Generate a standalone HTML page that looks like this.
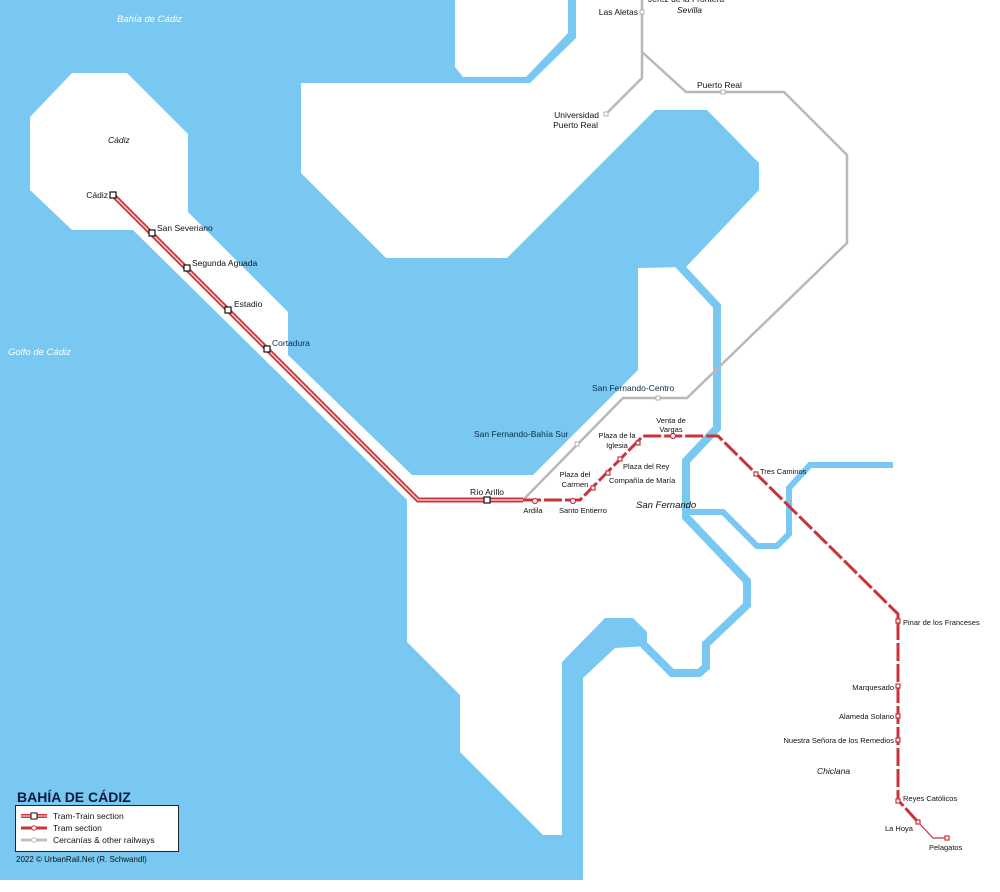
<!DOCTYPE html>
<html><head><meta charset="utf-8"><style>
html,body{margin:0;padding:0;background:#fff}
svg{display:block}
text{font-family:"Liberation Sans",Arial,sans-serif;fill:#111}
.s{font-size:8.5px}
.m{font-size:9.5px}
.it{font-style:italic}
.nv{fill:#0a2a4a}
</style></head><body>
<svg width="1000" height="892" viewBox="0 0 1000 892" xmlns="http://www.w3.org/2000/svg">
<rect x="0" y="0" width="1000" height="880" fill="#78c8f2"/>
<polygon fill="#fff" points="30,117 72,73 127,73 188,134 188,212 288,312 288,355 412,475 533,475 638,370 638,268 686,267 759,190 759,163 707,110 655,110 507,258 386,258 301,173 301,83 530,83 576,38 576,0 1000,0 1000,892 0,892 0,881 583,881 583,678 615,648 647,646 647,632 633,618 605,618 562,662 562,835 543,835 460,752 460,695 407,642 407,500 133,230 72,230 30,190"/>
<polygon fill="#fff" points="455,0 568,0 568,33 526,77 463,77 455,67"/>
<polyline fill="none" stroke="#78c8f2" stroke-width="8" points="676,262 717,306 717,428 686,461 686,517 747,581 747,605 706,644 706,667 699,673 672,673 643,644"/>
<polyline fill="none" stroke="#78c8f2" stroke-width="6" points="687,512 723,512 757,546 777,546 789,534 789,488 810,465 893,465"/>
<text x="117" y="22" class="m it" style="fill:#fff">Bahía de Cádiz</text>
<text x="8" y="355" class="m it" style="fill:#fff">Golfo de Cádiz</text>
<text x="108" y="143" class="s it">Cádiz</text>
<text x="636" y="508" class="m it">San Fernando</text>
<text x="817" y="774" class="s it">Chiclana</text>
<text x="677" y="13" class="s it">Sevilla</text>
<g fill="none" stroke="#b8b8b8" stroke-width="2.5">
<polyline points="642,0 642,78 606,114"/>
<polyline points="642,52 686,92 784,92 847,155 847,243 687,398 623,398 523,500"/>
</g>
<g fill="#fff" stroke="#b0b0b0" stroke-width="1">
<rect x="640" y="10" width="4" height="4"/><rect x="604" y="112" width="4" height="4"/>
<rect x="721" y="90" width="4" height="4"/><rect x="656" y="396" width="4" height="4"/>
<rect x="575" y="442" width="4" height="4"/>
</g>
<polyline fill="none" stroke="#c8343c" stroke-width="5" points="113,195 418,500 523,500"/>
<polyline fill="none" stroke="#f2c4c4" stroke-width="1.6" points="113,195 418,500 523,500"/>
<g fill="#fff" stroke="#111" stroke-width="1.2">
<rect x="110" y="192" width="6" height="6"/><rect x="149" y="230" width="6" height="6"/>
<rect x="184" y="265" width="6" height="6"/><rect x="225" y="307" width="6" height="6"/>
<rect x="264" y="346" width="6" height="6"/><rect x="484" y="497" width="6" height="6"/>
</g>
<polyline fill="none" stroke="#c8343c" stroke-width="3" stroke-dasharray="18 3" points="523,500 580,500 643,436 718,436 898,614 898,800 918,822"/>
<polyline fill="none" stroke="#c8343c" stroke-width="1.2" points="918,822 933,838 947,838"/>
<g fill="#fff" stroke="#c8343c" stroke-width="1.2">
<circle cx="535" cy="501" r="2.5"/><circle cx="573" cy="501" r="2.5"/>
<rect x="591" y="486" width="4" height="4"/><rect x="606" y="471" width="4" height="4"/>
<rect x="618" y="457" width="4" height="4"/><rect x="636" y="441" width="4" height="4"/>
<circle cx="673" cy="436" r="2.5"/><rect x="754" y="472" width="4" height="4"/>
<rect x="896" y="619" width="4" height="4"/><rect x="896" y="684" width="4" height="4"/>
<rect x="896" y="714" width="4" height="4"/><rect x="896" y="738" width="4" height="4"/>
<rect x="896" y="799" width="4" height="4"/><rect x="916" y="820" width="4" height="4"/>
<rect x="945" y="836" width="4" height="4"/>
</g>
<text x="108" y="198" class="s" text-anchor="end">Cádiz</text>
<text x="157" y="231" class="s">San Severiano</text>
<text x="192" y="266" class="s">Segunda Aguada</text>
<text x="234" y="307" class="s">Estadio</text>
<text x="272" y="346" class="s nv">Cortadura</text>
<text x="487" y="495" class="s" text-anchor="middle">Río Arillo</text>
<text x="533" y="513" text-anchor="middle" style="font-size:7.5px">Ardila</text>
<text x="559" y="513" style="font-size:7.5px">Santo Entierro</text>
<text x="575" y="477" text-anchor="middle" style="font-size:7.5px">Plaza del</text>
<text x="575" y="487" text-anchor="middle" style="font-size:7.5px">Carmen</text>
<text x="609" y="483" style="font-size:7.5px">Compañía de María</text>
<text x="623" y="469" style="font-size:7.5px">Plaza del Rey</text>
<text x="617" y="438" text-anchor="middle" style="font-size:7.5px">Plaza de la</text>
<text x="617" y="448" text-anchor="middle" style="font-size:7.5px">Iglesia</text>
<text x="671" y="423" text-anchor="middle" style="font-size:7.5px">Venta de</text>
<text x="671" y="432" text-anchor="middle" style="font-size:7.5px">Vargas</text>
<text x="592" y="391" class="s nv">San Fernando-Centro</text>
<text x="474" y="437" class="s nv">San Fernando-Bahía Sur</text>
<text x="760" y="474" style="font-size:7.5px">Tres Caminos</text>
<text x="903" y="625" style="font-size:7.5px">Pinar de los Franceses</text>
<text x="894" y="690" style="font-size:7.5px" text-anchor="end">Marquesado</text>
<text x="894" y="719" style="font-size:7.5px" text-anchor="end">Alameda Solano</text>
<text x="894" y="743" style="font-size:7.5px" text-anchor="end">Nuestra Señora de los Remedios</text>
<text x="903" y="801" style="font-size:7.5px">Reyes Católicos</text>
<text x="885" y="831" style="font-size:7.5px">La Hoya</text>
<text x="929" y="850" style="font-size:7.5px">Pelagatos</text>
<text x="638" y="15" class="s" text-anchor="end">Las Aletas</text>
<text x="648" y="2" class="s">Jerez de la Frontera</text>
<text x="599" y="118" class="s" text-anchor="end">Universidad</text>
<text x="598" y="128" class="s" text-anchor="end">Puerto Real</text>
<text x="697" y="88" class="s">Puerto Real</text>
<text x="17" y="802" style="font-size:14px;font-weight:bold;fill:#0a1a3a">BAHÍA DE CÁDIZ</text>
<rect x="15.5" y="805.5" width="163" height="46" fill="#fff" stroke="#222" stroke-width="1"/>
<line x1="21" y1="816" x2="47" y2="816" stroke="#c8343c" stroke-width="4"/>
<line x1="21" y1="816" x2="47" y2="816" stroke="#f2c4c4" stroke-width="1.3"/>
<rect x="31" y="813" width="6" height="6" fill="#fff" stroke="#111"/>
<line x1="21" y1="828" x2="47" y2="828" stroke="#c8343c" stroke-width="3"/>
<circle cx="34" cy="828" r="2.3" fill="#fff" stroke="#c8343c"/>
<line x1="21" y1="840" x2="47" y2="840" stroke="#c0c0c0" stroke-width="3"/>
<circle cx="34" cy="840" r="2.3" fill="#fff" stroke="#c0c0c0"/>
<text x="53" y="819" class="s">Tram-Train section</text>
<text x="53" y="831" class="s">Tram section</text>
<text x="53" y="843" class="s">Cercanías &amp; other railways</text>
<text x="16" y="862" style="font-size:8px">2022 © UrbanRail.Net (R. Schwandl)</text>
</svg>
</body></html>
